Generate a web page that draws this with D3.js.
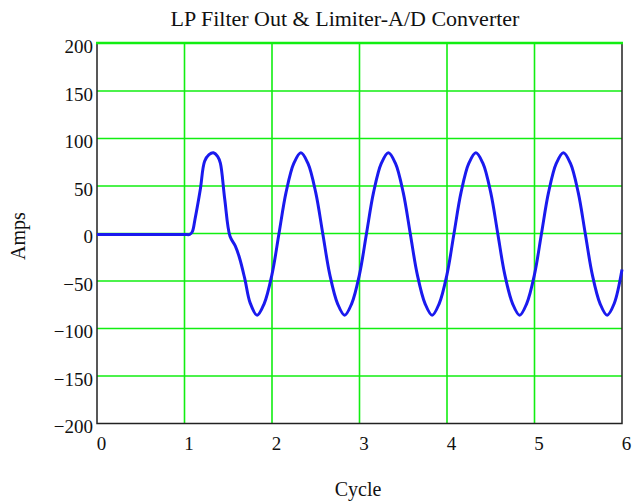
<!DOCTYPE html>
<html>
<head>
<meta charset="utf-8">
<script src="https://cdn.jsdelivr.net/npm/d3@7"></script>
<style>
  body { margin: 0; background: #fff; }
  text { font-family: "Liberation Serif", "Times New Roman", serif; fill: #111; }
</style>
</head>
<body>
<div class="chart"></div>
<script>
// values
var cycle = [0, 0.5, 1.0, 1.06, 1.09, 1.12, 1.18, 1.23, 1.28, 1.33, 1.38, 1.41, 1.46, 1.52, 1.58, 1.63, 1.69, 1.75,
  1.83, 1.91, 2.00, 2.08, 2.16, 2.25, 2.33, 2.41, 2.50, 2.58, 2.66, 2.75,
  2.83, 2.91, 3.00, 3.08, 3.16, 3.25, 3.33, 3.41, 3.50, 3.58, 3.66, 3.75,
  3.83, 3.91, 4.00, 4.08, 4.16, 4.25, 4.33, 4.41, 4.50, 4.58, 4.66, 4.75,
  4.83, 4.91, 5.00, 5.08, 5.16, 5.25, 5.33, 5.41, 5.50, 5.58, 5.66, 5.75,
  5.83, 5.91, 6.00];
var amps = [-1, -1, -1, -1, 2, 15, 46, 76, 83, 85, 81, 74, 36, -3, -13, -26, -48, -73,
  -86, -74, -43, 0, 43, 74, 85, 74, 43, 0, -43, -74,
  -86, -74, -43, 0, 43, 74, 85, 74, 43, 0, -43, -74,
  -86, -74, -43, 0, 43, 74, 85, 74, 43, 0, -43, -74,
  -86, -74, -43, 0, 43, 74, 85, 74, 43, 0, -43, -74,
  -86, -74, -38];

var xTicks = [0, 1, 2, 3, 4, 5, 6];
var yTicks = [-200, -150, -100, -50, 0, 50, 100, 150, 200];
var titleText = "LP Filter Out & Limiter-A/D Converter";
var xLabel = "Cycle";
var yLabel = "Amps";

var svgWidth = 635;
var svgHeight = 502;
var margin = { top: 43.5, right: 13, bottom: 78.5, left: 97 };
var width = svgWidth - margin.left - margin.right;
var height = svgHeight - margin.top - margin.bottom;

var svg = d3.select(".chart")
  .append("svg")
  .attr("width", svgWidth)
  .attr("height", svgHeight);

var chart = svg.append("g")
  .attr("transform", "translate(" + margin.left + "," + margin.top + ")");

var x = d3.scaleLinear().domain([0, 6]).range([0, width]);
var y = d3.scaleLinear().domain([-200, 200]).range([height, 0]);

// green grid
chart.append("g").selectAll("line")
  .data(xTicks.filter(function(d) { return d > 0 && d < 6; }))
  .enter().append("line")
  .attr("x1", function(d) { return x(d); })
  .attr("x2", function(d) { return x(d); })
  .attr("y1", 0).attr("y2", height)
  .attr("stroke", "#11ee11").attr("stroke-width", 1.6);

chart.append("g").selectAll("line")
  .data(yTicks.filter(function(d) { return d > -200 && d < 200; }))
  .enter().append("line")
  .attr("x1", 0).attr("x2", width)
  .attr("y1", function(d) { return y(d); })
  .attr("y2", function(d) { return y(d); })
  .attr("stroke", "#11ee11").attr("stroke-width", 1.6);

// black frame (left, bottom, right), green on top
chart.append("path")
  .attr("d", "M0," + y(200) + "V" + y(-200) + "H" + x(6) + "V" + y(200))
  .attr("fill", "none").attr("stroke", "#222").attr("stroke-width", 1.5);
chart.append("line")
  .attr("x1", -1).attr("x2", width + 1)
  .attr("y1", y(200) - 0.5).attr("y2", y(200) - 0.5)
  .attr("stroke", "#11ee11").attr("stroke-width", 2.5);

// signal
var pts = cycle.map(function(c, i) { return [c, amps[i]]; });
var line = d3.line()
  .x(function(d) { return x(d[0]); })
  .y(function(d) { return y(d[1]); })
  .curve(d3.curveCatmullRom.alpha(0.5));
chart.append("path")
  .datum(pts)
  .attr("d", line)
  .attr("fill", "none")
  .attr("stroke", "#1a1aee")
  .attr("stroke-width", 3)
  .attr("stroke-linejoin", "round");

// axes (labels only)
var fmt = function(d) { return d < 0 ? "\u2212" + Math.abs(d) : String(d); };
var leftAxis = d3.axisLeft(y).tickValues(yTicks).tickFormat(fmt).tickSize(0).tickPadding(4);
var gy = chart.append("g").call(leftAxis);
gy.select(".domain").remove();
gy.selectAll("text")
  .attr("dy", "0.48em")
  .style("font-size", "19px")
  .style("font-family", "Liberation Serif, serif")
  .attr("fill", "#111");

var bottomAxis = d3.axisBottom(x).tickValues(xTicks).tickFormat(d3.format("d")).tickSize(0).tickPadding(13);
var gx = chart.append("g").attr("transform", "translate(0," + height + ")").call(bottomAxis);
gx.select(".domain").remove();
gx.selectAll("text")
  .attr("dx", 4)
  .style("font-size", "19px")
  .style("font-family", "Liberation Serif, serif")
  .attr("fill", "#111");

svg.append("text")
  .attr("x", 345).attr("y", 26)
  .attr("text-anchor", "middle")
  .style("font-size", "22px")
  .text(titleText);

svg.append("text")
  .attr("x", 358).attr("y", 496)
  .attr("text-anchor", "middle")
  .style("font-size", "20px")
  .text(xLabel);

svg.append("text")
  .attr("transform", "translate(25,236) rotate(-90)")
  .attr("text-anchor", "middle")
  .style("font-size", "20px")
  .text(yLabel);
</script>
</body>
</html>
